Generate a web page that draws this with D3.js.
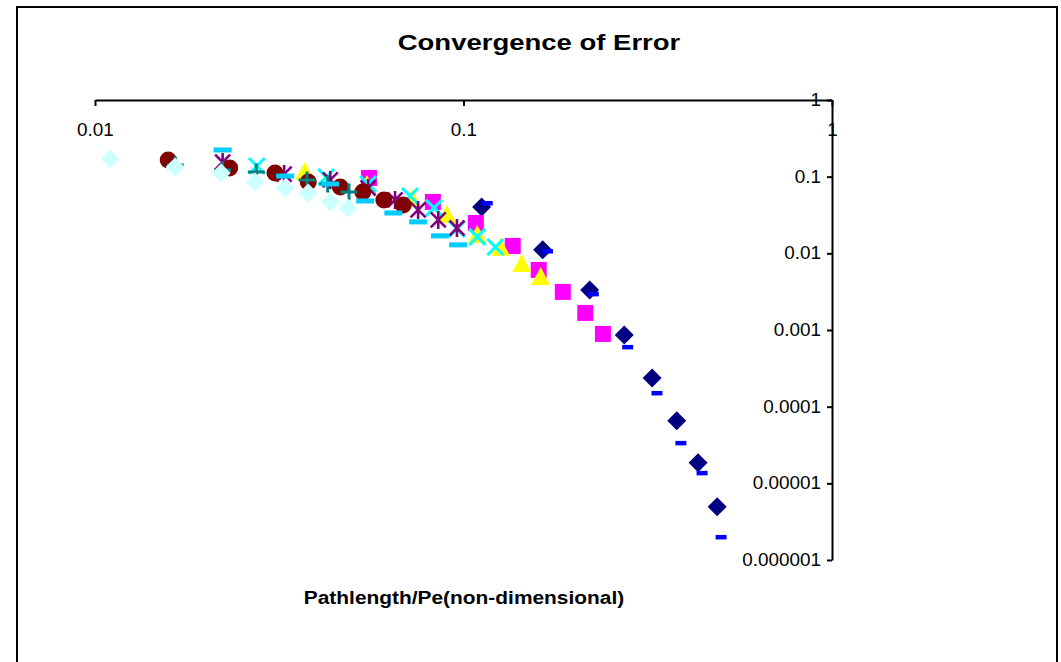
<!DOCTYPE html>
<html><head><meta charset="utf-8">
<script src="https://cdn.jsdelivr.net/npm/d3@7"></script>
<style>body{margin:0;background:#fff}svg{display:block}</style>
</head><body><svg id="chart" width="1061" height="662"></svg>
<script>
// ---- data ----
const xTicks = [0.01, 0.1, 1];
const xTickLabels = ["0.01", "0.1", "1"];
const yTicks = [1, 0.1, 0.01, 0.001, 0.0001, 0.00001, 0.000001];
const yTickLabels = ["1", "0.1", "0.01", "0.001", "0.0001", "0.00001", "0.000001"];
const chartTitle = "Convergence of Error";
const xTitle = "Pathlength/Pe(non-dimensional)";

const navyX = [0.112, 0.164, 0.220, 0.273, 0.325, 0.379, 0.433, 0.488];
const navyY = [0.0403, 0.0111, 0.00333, 0.000863, 0.000237, 0.0000653, 0.0000185, 0.00000494];
const magentaX = [0.0554, 0.0826, 0.108, 0.136, 0.160, 0.186, 0.214, 0.239];
const magentaY = [0.0962, 0.0468, 0.0249, 0.0125, 0.00608, 0.00314, 0.00167, 0.000889];
const yellowX = [0.0371, 0.0547, 0.0724, 0.0901, 0.109, 0.126, 0.144, 0.162];
const yellowY = [0.115, 0.0779, 0.0512, 0.0317, 0.0174, 0.0118, 0.00728, 0.00492];
const cyanX = [0.0275, 0.0424, 0.0551, 0.0716, 0.0832, 0.0960, 0.109, 0.122];
const cyanY = [0.138, 0.0991, 0.0803, 0.0560, 0.0391, 0.0208, 0.0164, 0.0121];
const purpleX = [0.0222, 0.0326, 0.0435, 0.0551, 0.0652, 0.0753, 0.0854, 0.0960];
const purpleY = [0.155, 0.108, 0.0906, 0.0712, 0.0497, 0.0368, 0.0273, 0.0214];
const maroonX = [0.0158, 0.0232, 0.0308, 0.0379, 0.0463, 0.0533, 0.0608, 0.0686];
const maroonY = [0.165, 0.130, 0.112, 0.0853, 0.0734, 0.0632, 0.0497, 0.0428];
const tealX = [0.0165, 0.0222, 0.0274, 0.0376, 0.0428, 0.0489];
const tealY = [0.142, 0.122, 0.115, 0.0906, 0.0803, 0.0632];
const blueX = [0.116, 0.169, 0.225, 0.279, 0.335, 0.389, 0.444, 0.500];
const blueY = [0.0454, 0.0107, 0.00296, 0.000602, 0.000151, 0.0000337, 0.0000137, 0.0000020];
const skyX = [0.0222, 0.0328, 0.0435, 0.0541, 0.0645, 0.0753, 0.0863, 0.0967];
const skyY = [0.223, 0.102, 0.0803, 0.0482, 0.0336, 0.0257, 0.0169, 0.0129];
const paleX = [0.0110, 0.0165, 0.0220, 0.0272, 0.0328, 0.0379, 0.0435, 0.0486];
const paleY = [0.170, 0.134, 0.112, 0.0853, 0.0712, 0.0613, 0.0468, 0.0391];

const series = [
  {x: navyX, y: navyY, color: "#000080", marker: "diamond"},
  {x: magentaX, y: magentaY, color: "#FF00FF", marker: "square"},
  {x: yellowX, y: yellowY, color: "#FFFF00", marker: "triangle"},
  {x: cyanX, y: cyanY, color: "#00FFFF", marker: "x"},
  {x: purpleX, y: purpleY, color: "#800080", marker: "star"},
  {x: maroonX, y: maroonY, color: "#800000", marker: "circle"},
  {x: tealX, y: tealY, color: "#008080", marker: "plus"},
  {x: blueX, y: blueY, color: "#0000FF", marker: "dash"},
  {x: skyX, y: skyY, color: "#00CCFF", marker: "longdash"},
  {x: paleX, y: paleY, color: "#CCFFFF", marker: "diamond"}
];

// ---- layout ----
const svg = d3.select("#chart");
const font = "'Liberation Sans', Arial, sans-serif";
const TICK_FS = 17.5;
const SX = 1.08;

svg.append("rect").attr("x", 17).attr("y", 7).attr("width", 1040).attr("height", 670)
  .attr("fill", "#fff").attr("stroke", "#000").attr("stroke-width", 2);

const x = d3.scaleLog().domain([0.01, 1]).range([95, 832]);
const y = d3.scaleLog().domain([0.000001, 1]).range([560, 100]);

function stretchedText(px, py, txt, size, weight, anchor, sx) {
  svg.append("g").attr("transform", `translate(${px},${py}) scale(${sx},1)`)
    .append("text").attr("text-anchor", anchor).attr("font-family", font)
    .attr("font-size", size).attr("font-weight", weight).attr("fill", "#000").text(txt);
}

stretchedText(539, 50, chartTitle, 22, "bold", "middle", 1.25);
stretchedText(464, 604, xTitle, 19, "bold", "middle", 1.1);

// x axis on top (at y = 1)
const xAxis = d3.axisBottom(x).tickValues(xTicks).tickFormat((d, i) => xTickLabels[i])
  .tickSize(6).tickPadding(18).tickSizeOuter(0);
const gx = svg.append("g").attr("transform", `translate(0,${y(1)})`).call(xAxis);
gx.select(".domain").attr("stroke", "#000").attr("stroke-width", 2);
gx.selectAll(".tick line").attr("stroke", "#000").attr("stroke-width", 2);
gx.selectAll(".tick text").attr("font-family", font).attr("font-size", TICK_FS).attr("fill", "#000")
  .attr("transform", `scale(${SX},1)`);

// y axis on right (at x = 1), labels to the left
const yAxis = d3.axisLeft(y).tickValues(yTicks).tickFormat((d, i) => yTickLabels[i])
  .tickSize(5).tickPadding(6).tickSizeOuter(0);
const gy = svg.append("g").attr("transform", `translate(${x(1)},0)`).call(yAxis);
gy.select(".domain").attr("stroke", "#000").attr("stroke-width", 2);
gy.selectAll(".tick line").attr("stroke", "#000").attr("stroke-width", 2);
gy.selectAll(".tick text").attr("font-family", font).attr("font-size", TICK_FS).attr("fill", "#000")
  .attr("x", -11 / SX).attr("transform", `scale(${SX},1)`);

// ---- markers ----
function drawMarker(g, m, c) {
  switch (m) {
    case "diamond":
      g.append("path").attr("d", "M0,-9.5L9.5,0L0,9.5L-9.5,0Z").attr("fill", c); break;
    case "square":
      g.append("rect").attr("x", -8).attr("y", -8).attr("width", 16).attr("height", 16).attr("fill", c); break;
    case "triangle":
      g.append("path").attr("d", "M0,-10L9.5,8L-9.5,8Z").attr("fill", c); break;
    case "circle":
      g.append("circle").attr("r", 8.5).attr("fill", c); break;
    case "x":
      g.append("path").attr("d", "M-8,-8L8,8M-8,8L8,-8").attr("stroke", c).attr("stroke-width", 3).attr("fill", "none"); break;
    case "star":
      g.append("path").attr("d", "M-7.5,-7.5L7.5,7.5M-7.5,7.5L7.5,-7.5M0,-9L0,9").attr("stroke", c).attr("stroke-width", 2.6).attr("fill", "none"); break;
    case "plus":
      g.append("path").attr("d", "M-8.5,0L8.5,0M0,-8.5L0,8.5").attr("stroke", c).attr("stroke-width", 3).attr("fill", "none"); break;
    case "dash":
      g.append("rect").attr("x", -5.5).attr("y", -2).attr("width", 11).attr("height", 4.5).attr("fill", c); break;
    case "longdash":
      g.append("rect").attr("x", -9).attr("y", -2.5).attr("width", 18).attr("height", 5).attr("fill", c); break;
  }
}

series.forEach(s => {
  const pts = s.x.map((v, i) => [v, s.y[i]]);
  const g = svg.append("g");
  g.selectAll("g").data(pts).join("g")
    .attr("transform", d => `translate(${x(d[0])},${y(d[1])})`)
    .each(function () { drawMarker(d3.select(this), s.marker, s.color); });
});
</script>
</body></html>
